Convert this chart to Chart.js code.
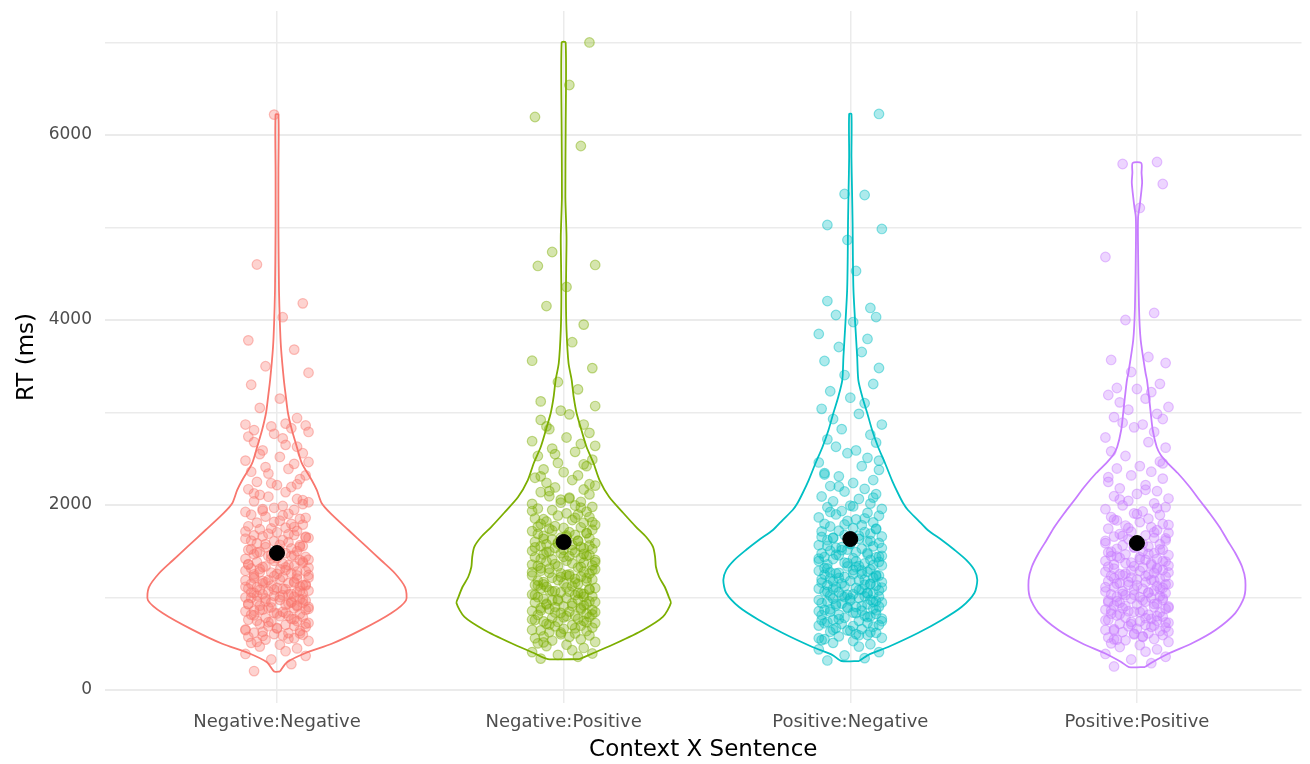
<!DOCTYPE html>
<html>
<head>
<meta charset="utf-8">
<script src="https://cdn.jsdelivr.net/npm/chart.js@4.4.1/dist/chart.umd.min.js"></script>
<style>
html, body { margin: 0; padding: 0; background: #fff; }
#wrap { width: 1310px; height: 764px; }
</style>
</head>
<body>
<div id="wrap"><canvas id="rtChart" width="1310" height="764"></canvas></div>
<script>
// Context X Sentence violins with jittered RT points

const categories = ["Negative:Negative", "Negative:Positive", "Positive:Negative", "Positive:Positive"];

const yTicks = [0, 1000, 2000, 3000, 4000, 5000, 6000, 7000];
const yLabels = [0, 2000, 4000, 6000];

// group means (ms)
const means = [1481, 1600, 1632, 1589];

// violin profiles: [RT ms, half width in category units]
const violinNegNeg = [
[200,.010],[300,.035],[400,.100],[500,.191],[650,.294],[830,.398],[970,.450],[1110,.447],
[1260,.412],[1400,.364],[1550,.312],[1730,.249],[1910,.187],[2020,.156],[2160,.139],[2270,.121],
[2450,.087],[2630,.069],[2810,.052],[3000,.038],[3170,.031],[3350,.024],[3700,.014],[3970,.010],
[4320,.007],[5000,.005],[5600,.005],[6220,.005]
];
const violinNegPos = [
[335,.055],[400,.104],[508,.184],[649,.277],[790,.346],[940,.374],[1005,.367],[1114,.353],
[1222,.333],[1330,.322],[1438,.319],[1546,.312],[1654,.288],[1762,.253],[1914,.208],[2086,.159],
[2270,.125],[2454,.104],[2627,.080],[2811,.062],[2995,.045],[3168,.035],[3351,.028],[3535,.017],
[3892,.010],[4250,.008],[4600,.009],[4900,.010],[5330,.006],[6054,.007],[7000,.007]
];
const violinPosNeg = [
[314,.031],[378,.062],[465,.132],[616,.236],[757,.319],[897,.388],[1049,.433],[1189,.443],
[1297,.433],[1405,.405],[1514,.364],[1622,.319],[1730,.270],[1838,.236],[1946,.201],[2022,.184],
[2130,.166],[2270,.145],[2454,.121],[2627,.097],[2811,.076],[2995,.059],[3168,.042],[3351,.028],
[3600,.024],[3968,.017],[4324,.011],[4681,.009],[5049,.008],[5405,.006],[5762,.004],[6227,.004]
];
const violinPosPos = [
[249,.028],[303,.055],[400,.114],[508,.194],[649,.274],[832,.343],[1005,.374],[1189,.378],
[1330,.367],[1481,.343],[1622,.315],[1762,.288],[1914,.253],[2054,.218],[2195,.184],[2346,.142],
[2454,.107],[2541,.083],[2627,.069],[2811,.055],[2995,.048],[3168,.042],[3351,.035],[3427,.030],
[3784,.013],[4141,.007],[4865,.0035],[5114,.004],[5222,.009],[5481,.018],[5589,.016],[5697,.015]
];

// RT (ms) per trial
const rtNegNeg = [
205,280,330,370,390,420,450,470,490,510,530,545,560,575,590,598,520,
605,615,630,640,655,665,680,690,695,620,705,712,725,738,745,760,770,782,790,798,750,
802,815,822,836,845,851,866,870,884,890,898,858,828,905,912,920,931,940,948,955,962,975,982,990,996,968,935,
1002,1010,1018,1025,1036,1044,1050,1058,1066,1075,1083,1090,1098,1040,
1105,1112,1120,1128,1140,1148,1156,1165,1172,1185,1194,1135,1178,
1203,1210,1222,1230,1244,1251,1262,1270,1284,1290,1296,1238,1276,
1304,1315,1322,1336,1342,1355,1368,1375,1384,1396,1349,1330,
1405,1418,1426,1438,1447,1455,1468,1480,1492,1410,1462,
1502,1515,1530,1544,1556,1570,1585,1598,1522,1565,
1608,1620,1636,1650,1662,1678,1690,1644,1672,
1705,1720,1738,1755,1770,1788,1746,1796,
1810,1830,1850,1875,1895,1862,1905,1925,1948,1970,1990,1938,
2010,2040,2065,2090,2030,2110,2140,2170,2195,2215,2250,2280,2235,
2320,2360,2390,2410,2445,2480,2520,2560,2590,2630,2680,2720,2770,2790,
2810,2830,2850,2860,2870,2880,2940,3050,3150,3300,3430,3500,3680,3780,
4030,4180,4600,6220,
555,585,612,648,672,718,733,767,808,833,862,877,893,915,926,944,958,979,1006,1021,
1033,1054,1071,1087,1094,1116,1131,1152,1161,1189,1215,1227,1256,1281,1309,1327,1361,1389,1422,1451,
1487,1512,1548,1577,1615,1657,1684,1714,1762,1818,1887,1956,2052,2125,2225,2340,2465,2550,2650,2740
];
const rtNegPos = [
340,360,380,395,410,430,455,475,490,505,520,535,548,560,575,590,515,
603,612,625,638,650,662,675,688,696,645,702,715,724,736,748,757,768,779,790,799,742,
805,812,826,834,848,855,867,875,889,896,842,860,903,915,924,938,945,958,966,977,986,995,930,972,
1004,1012,1025,1033,1045,1056,1064,1078,1085,1097,1040,1070,
1103,1115,1124,1136,1148,1155,1167,1176,1188,1195,1130,
1202,1214,1226,1238,1245,1257,1268,1279,1290,1233,1262,
1305,1316,1325,1337,1348,1356,1369,1377,1389,1398,1342,
1406,1413,1427,1435,1446,1458,1466,1479,1488,1497,1452,
1504,1516,1525,1537,1549,1556,1568,1576,1589,1595,1531,
1603,1615,1628,1640,1652,1665,1677,1688,1698,1646,
1706,1718,1733,1745,1759,1772,1786,1795,1752,
1808,1822,1838,1855,1870,1886,1898,1846,1910,1928,1945,1962,1980,1995,
2012,2035,2058,2080,2095,2115,2140,2168,2190,2210,2240,2270,2295,
2320,2355,2385,2420,2455,2490,2530,2575,2610,2660,2690,2730,2780,2820,2870,2920,2980,
3020,3070,3120,3250,3330,3480,3560,3760,3950,
4151,4357,4584,4595,4735,5881,6194,6540,7000,
580,622,668,708,731,762,786,818,838,872,885,909,934,952,981,1008,1028,1051,1067,1092,
1109,1142,1162,1183,1208,1222,1251,1274,1296,1311,1331,1362,1383,1417,1441,1472,1493,1512,1542,1563,
1582,1611,1634,1671,1694,1725,1766,1815,1862,1935,1972,2025,2070,2150,2225,2310,2440,2550,2640,2850
];
const rtPosNeg = [
320,345,375,410,440,470,495,510,530,550,565,580,595,540,
605,618,630,645,658,670,685,697,640,703,714,726,735,748,760,772,781,795,755,
804,815,823,837,846,858,866,879,887,898,852,902,914,926,935,947,955,968,976,987,996,940,962,
1005,1013,1024,1036,1044,1057,1065,1076,1088,1096,1050,1030,
1103,1112,1127,1134,1145,1153,1166,1175,1186,1197,1140,1180,
1206,1215,1223,1237,1248,1255,1267,1278,1289,1296,1244,1260,
1303,1314,1328,1336,1347,1359,1368,1377,1386,1395,1342,
1408,1416,1425,1438,1449,1457,1468,1477,1490,1435,
1506,1518,1529,1540,1553,1566,1578,1590,1545,
1605,1620,1634,1648,1660,1675,1690,1655,
1708,1722,1738,1750,1768,1782,1797,1812,1828,1845,1866,1884,1898,
1915,1935,1958,1976,1994,2015,2040,2066,2092,2118,2146,2175,
2205,2238,2270,2310,2345,2380,2420,2460,2510,2560,2590,2630,2675,2710,2760,2820,2870,2930,2985,
3040,3100,3160,3230,3308,3405,3481,3557,3654,3708,3795,3849,3978,
4032,4054,4130,4205,4530,4865,4984,5027,5351,5362,6227,
560,592,625,652,692,722,744,766,788,809,832,862,873,894,908,931,952,973,991,1009,
1019,1042,1061,1081,1093,1108,1121,1149,1162,1193,1211,1231,1252,1273,1292,1318,1352,1373,1391,1421,
1443,1463,1484,1512,1535,1559,1584,1612,1642,1668,1715,1745,1790,1855,1925,1985,2080,2200,2330,2480
];
const rtPosPos = [
255,290,330,360,390,415,440,465,485,505,520,538,552,568,580,595,545,
602,614,627,638,650,663,676,689,698,645,704,716,728,737,749,758,770,783,794,742,
806,814,825,838,846,857,869,878,886,897,852,903,913,925,936,944,956,967,975,988,997,960,
1004,1015,1026,1034,1047,1055,1066,1074,1087,1095,1040,
1104,1116,1125,1137,1146,1158,1165,1177,1189,1196,1150,
1203,1216,1227,1235,1246,1258,1266,1279,1287,1298,1240,
1305,1313,1326,1338,1345,1357,1366,1378,1389,1396,
1407,1418,1428,1436,1448,1459,1467,1479,1488,
1502,1516,1527,1539,1550,1563,1576,1588,
1604,1617,1630,1645,1659,1672,1686,1698,
1712,1728,1745,1760,1778,1795,1815,1833,1852,1870,1892,
1910,1930,1955,1978,1996,2018,2045,2070,2095,2120,2150,2180,
2215,2250,2285,2320,2360,2395,2420,2470,2530,2580,2620,2680,2730,2790,2840,2870,2890,2930,2950,2985,
3030,3060,3110,3150,3189,3220,3254,3265,3310,3438,3535,3568,3600,
4000,4076,4681,5211,5470,5686,5708,
548,575,610,632,658,683,711,732,755,777,799,820,843,862,891,908,931,950,971,993,
1010,1031,1052,1070,1091,1111,1131,1142,1171,1184,1209,1231,1252,1271,1293,1319,1333,1351,1372,1393,
1412,1443,1472,1495,1521,1545,1581,1611,1639,1666,1705,1752,1785,1843,1902,1967,2060,2165,2300,2450
];

// horizontal jitter offsets (category units)
const jitter = [
-0.08,0.05,-0.02,0.10,-0.11,0.03,0.07,-0.06,0.01,-0.09,0.11,-0.04,0.06,-0.10,0.02,0.09,
-0.07,-0.01,0.04,-0.05,0.08,-0.11,0.00,0.10,-0.03,0.06,-0.08,0.03,-0.06,0.11,-0.02,0.07,
-0.10,0.05,-0.04,0.09,0.01,-0.07,0.04,-0.09,0.08,-0.01,0.02,-0.11,0.10,-0.05,0.06,-0.03,
0.11,-0.08,0.00,0.07,-0.06,0.03,-0.10,0.09,-0.02,0.05,-0.07,0.01,0.08,-0.04,-0.09,0.10,
0.04,-0.11,0.06,-0.01,0.02,-0.05,0.09,-0.08,0.07,-0.03,0.11,-0.06,0.03,-0.10,0.05,0.00,
-0.07,0.08,-0.02,0.10,-0.09,0.04,-0.04,0.06,-0.11,0.01,0.09,-0.05,0.07,-0.08,0.02,-0.01,0.11
];

const groups = [rtNegNeg, rtNegPos, rtPosNeg, rtPosPos];
const violins = [violinNegNeg, violinNegPos, violinPosNeg, violinPosPos];
const colors = [[248,118,109], [124,174,0], [0,191,196], [199,124,255]];

function rgba(c, a) { return "rgba(" + c[0] + "," + c[1] + "," + c[2] + "," + a + ")"; }

function outline(pos, prof) {
  const right = prof.map(p => ({ x: pos + p[1], y: p[0] }));
  const left = prof.slice().reverse().map(p => ({ x: pos - p[1], y: p[0] }));
  return right.concat(left, [right[0]]);
}

const datasets = [];
groups.forEach((rt, g) => {
  const pos = g + 1;
  datasets.push({
    data: outline(pos, violins[g]),
    showLine: true,
    borderColor: rgba(colors[g], 1),
    borderWidth: 1.8,
    pointRadius: 0,
    tension: 0.25,
    fill: false,
    order: 3
  });
  datasets.push({
    data: rt.map((v, i) => ({ x: pos + jitter[i % jitter.length], y: v })),
    pointRadius: 4.8,
    pointBackgroundColor: rgba(colors[g], 0.32),
    pointBorderColor: rgba(colors[g], 0.45),
    pointBorderWidth: 1.2,
    order: 2
  });
});
datasets.push({
  data: means.map((m, g) => ({ x: g + 1, y: m })),
  pointRadius: 7.5,
  pointBackgroundColor: "#000",
  pointBorderColor: "#000",
  order: 1
});

Chart.defaults.font.family = "'DejaVu Sans'";

new Chart(document.getElementById("rtChart"), {
  type: "scatter",
  data: { datasets: datasets },
  options: {
    responsive: false,
    animation: false,
    devicePixelRatio: 1,
    layout: { padding: { top: 11, right: 0, left: 0, bottom: 0 } },
    plugins: { legend: { display: false }, tooltip: { enabled: false } },
    scales: {
      x: {
        type: "linear",
        min: 0.4,
        max: 4.574,
        afterBuildTicks: s => { s.ticks = [1, 2, 3, 4].map(v => ({ value: v })); },
        afterFit: s => { s.height = 61; s.paddingLeft = 0; s.paddingRight = 0; },
        border: { display: false },
        grid: { color: "#EBEBEB", lineWidth: 1.5, drawTicks: false },
        ticks: {
          autoSkip: false, maxRotation: 0, padding: 9,
          color: "#4D4D4D", font: { size: 18 },
          callback: v => categories[v - 1]
        },
        title: {
          display: true, text: "Context X Sentence", color: "#000",
          font: { size: 23 }, padding: { top: 0, bottom: 0 }
        }
      },
      y: {
        min: -140,
        max: 7340,
        afterBuildTicks: s => { s.ticks = yTicks.map(v => ({ value: v })); },
        afterFit: s => { s.width = 105; s.paddingTop = 0; s.paddingBottom = 0; },
        border: { display: false },
        grid: {
          color: "#EBEBEB",
          lineWidth: c => (yLabels.includes(c.tick.value) ? 2 : 1.4),
          drawTicks: false
        },
        ticks: {
          padding: 13, color: "#4D4D4D", font: { size: 17 },
          callback: v => (yLabels.includes(v) ? String(v) : "")
        },
        title: {
          display: true, text: "RT (ms)", color: "#000",
          font: { size: 23 }, padding: { top: 13, bottom: 0 }
        }
      }
    }
  }
});
</script>
</body>
</html>
